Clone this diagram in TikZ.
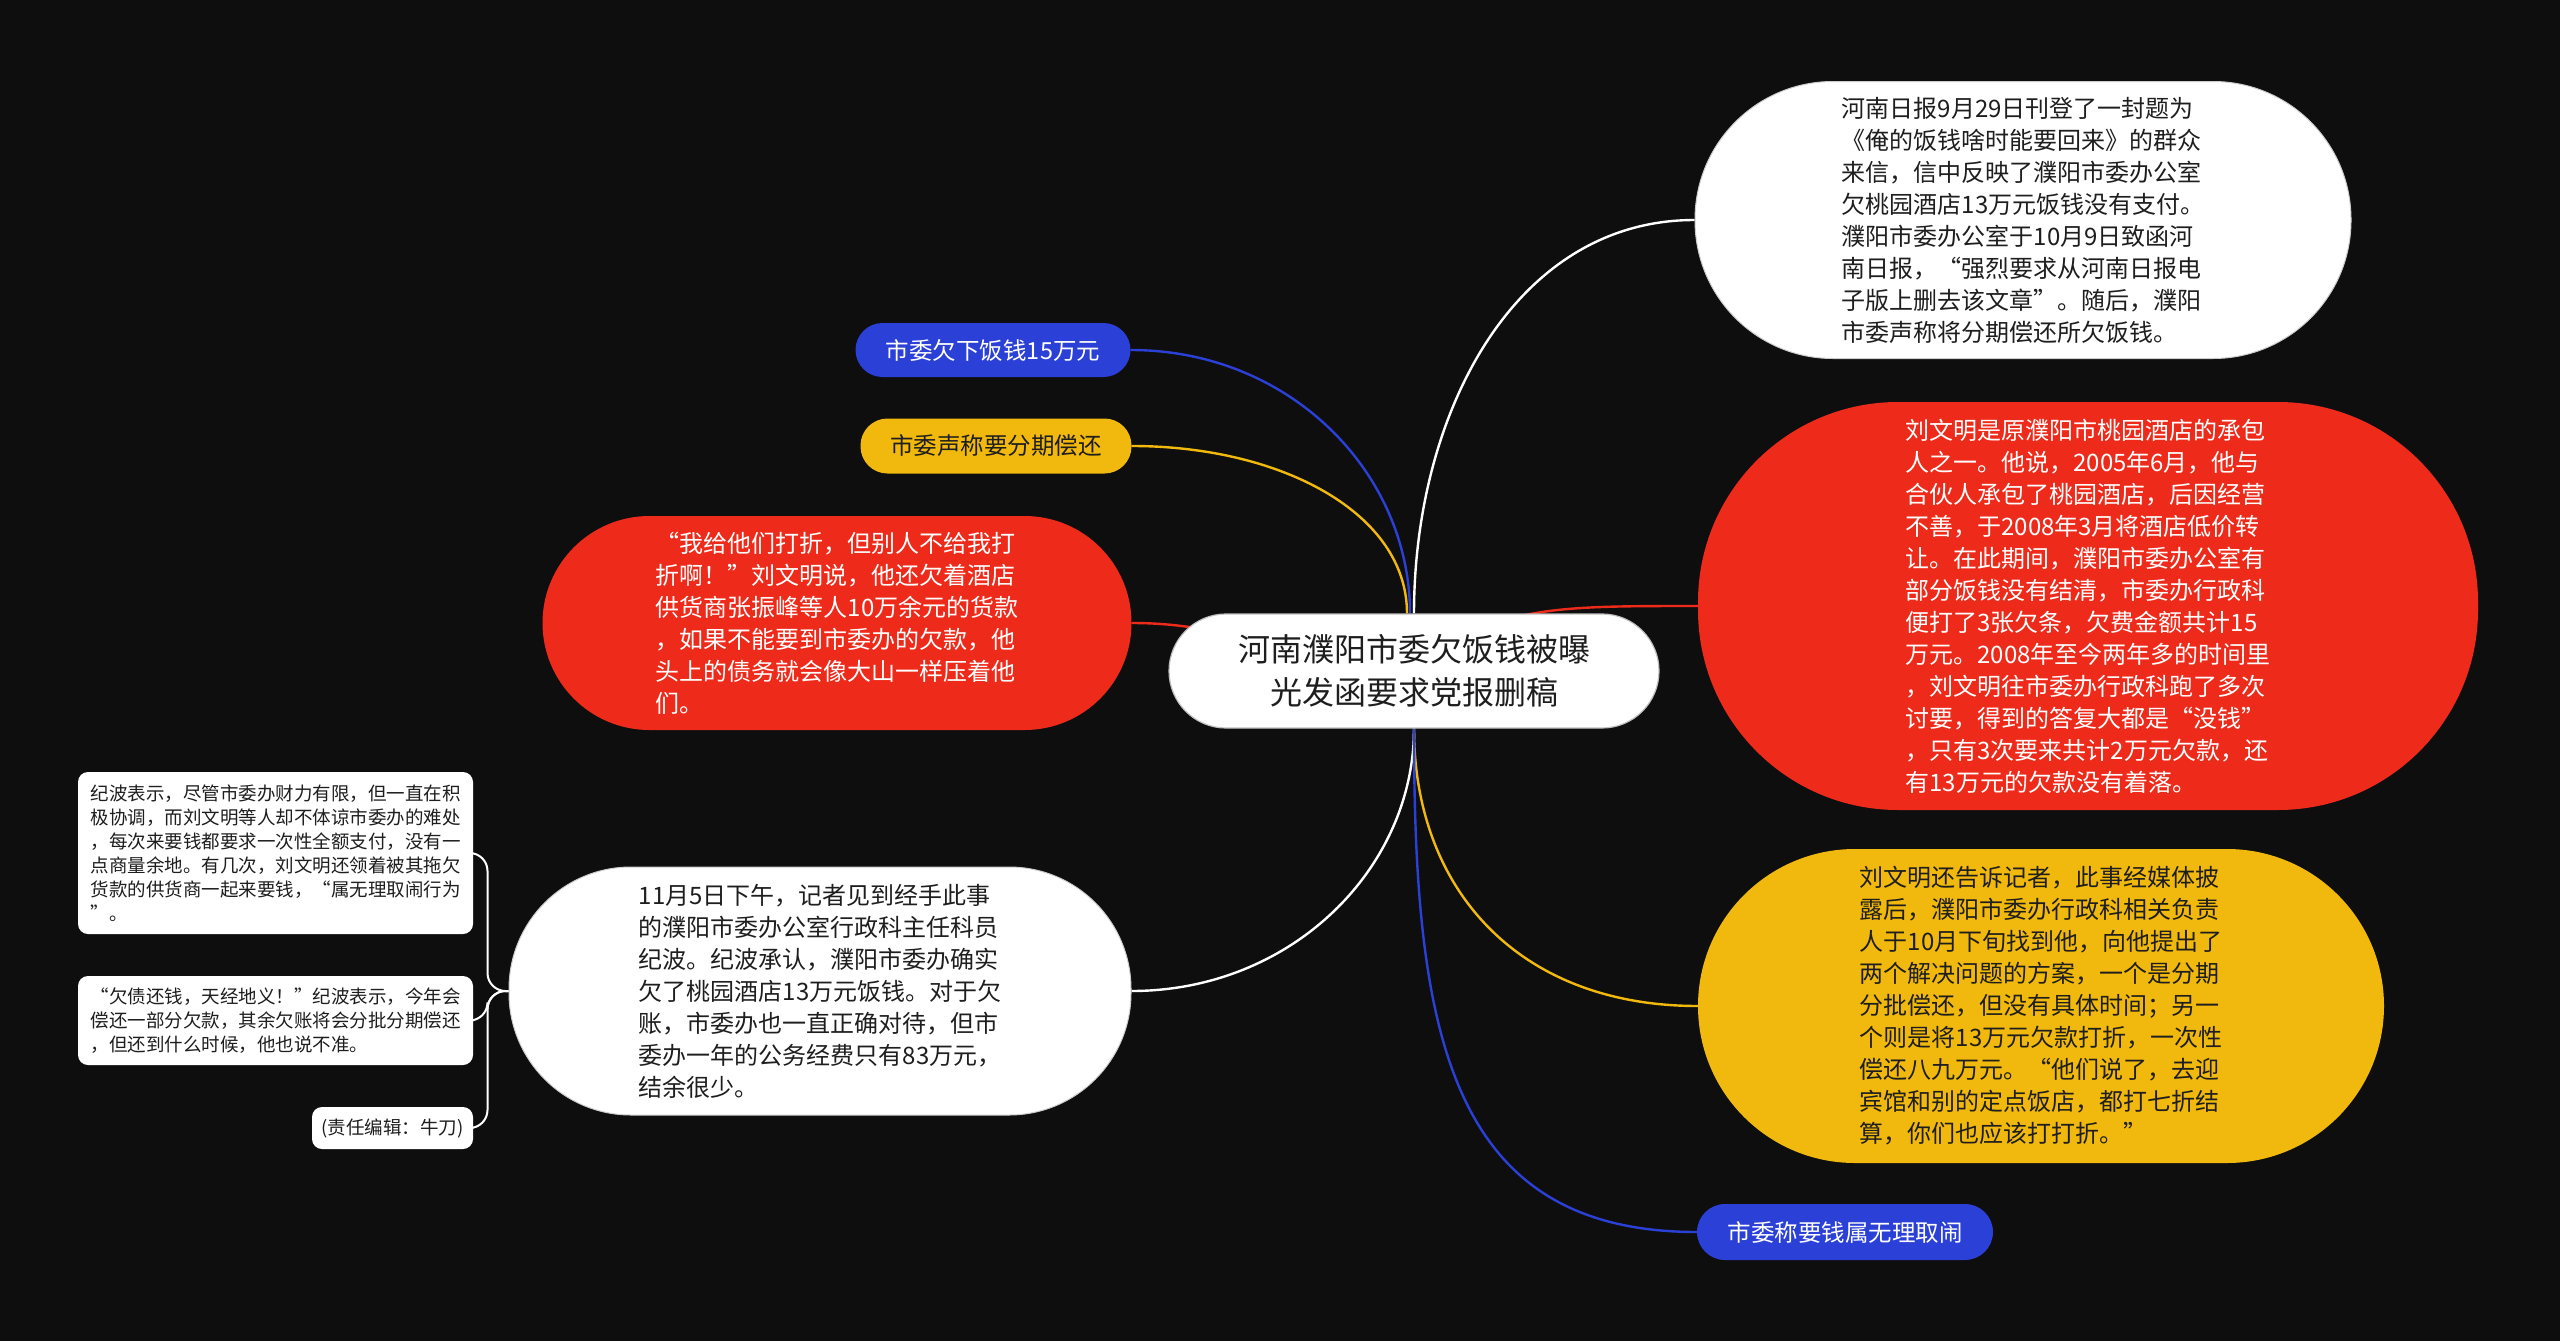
\documentclass[tikz,border=0pt]{standalone}
\usepackage{fontspec}
\setmainfont{Noto Sans CJK SC}
\usetikzlibrary{backgrounds}
\definecolor{bg}{HTML}{0E0E0E}
\definecolor{mred}{HTML}{EE2B1B}
\definecolor{myel}{HTML}{F1B90D}
\definecolor{mblue}{HTML}{2B40D6}
\definecolor{dtext}{HTML}{1E1E1E}
\begin{document}
\begin{tikzpicture}[x=1pt,y=-1pt,
  bub/.style={rounded corners=#1, inner sep=0pt, align=left},
  bigtxt/.style={font=\fontsize{24}{32}\selectfont},
  lbltxt/.style={font=\fontsize{23.5}{28}\selectfont, align=center},
  smalltxt/.style={font=\fontsize{18.5}{24}\selectfont},
  conn/.style={line width=2.4pt},
  sconn/.style={line width=2pt, draw=white, rounded corners=18pt}]
\useasboundingbox (0,0) rectangle (2560,1341);

% root
\node[bub=57, fill=white, draw=black!25, line width=1.2pt, minimum width=490pt, minimum height=114pt,
  font=\fontsize{32}{43}\selectfont, text=dtext, align=center] (root) at (1414,671)
  {河南濮阳市委欠饭钱被曝\\光发函要求党报删稿};

% right side
\node[bub=138, fill=white, draw=black!20, line width=1pt, minimum width=656pt, minimum height=277pt,
  bigtxt, text=dtext] (trw) at (2023,220)
  {河南日报9月29日刊登了一封题为\\《俺的饭钱啥时能要回来》的群众\\来信，信中反映了濮阳市委办公室\\欠桃园酒店13万元饭钱没有支付。\\濮阳市委办公室于10月9日致函河\\南日报，“强烈要求从河南日报电\\子版上删去该文章”。随后，濮阳\\市委声称将分期偿还所欠饭钱。};

\node[bub=200, fill=mred, minimum width=780pt, minimum height=408pt,
  bigtxt, text=white] (rred) at (2088,606)
  {刘文明是原濮阳市桃园酒店的承包\\人之一。他说，2005年6月，他与\\合伙人承包了桃园酒店，后因经营\\不善，于2008年3月将酒店低价转\\让。在此期间，濮阳市委办公室有\\部分饭钱没有结清，市委办行政科\\便打了3张欠条，欠费金额共计15\\万元。2008年至今两年多的时间里\\，刘文明往市委办行政科跑了多次\\讨要，得到的答复大都是“没钱”\\，只有3次要来共计2万元欠款，还\\有13万元的欠款没有着落。};

\node[bub=157, fill=myel, minimum width=686pt, minimum height=314pt,
  bigtxt, text=dtext] (ryel) at (2041,1006)
  {刘文明还告诉记者，此事经媒体披\\露后，濮阳市委办行政科相关负责\\人于10月下旬找到他，向他提出了\\两个解决问题的方案，一个是分期\\分批偿还，但没有具体时间；另一\\个则是将13万元欠款打折，一次性\\偿还八九万元。“他们说了，去迎\\宾馆和别的定点饭店，都打七折结\\算，你们也应该打打折。”};

\node[bub=28, fill=mblue, minimum width=296pt, minimum height=56pt,
  lbltxt, text=white] (rblue) at (1845,1232) {市委称要钱属无理取闹};

% left side
\node[bub=27, fill=mblue, minimum width=275pt, minimum height=54pt,
  lbltxt, text=white] (lblue) at (993,350) {市委欠下饭钱15万元};

\node[bub=27, fill=myel, minimum width=271pt, minimum height=55pt,
  lbltxt, text=dtext] (lyel) at (996,446) {市委声称要分期偿还};

\node[bub=107, fill=mred, minimum width=589pt, minimum height=214pt,
  bigtxt, text=white] (lred) at (837,623)
  {“我给他们打折，但别人不给我打\\折啊！”刘文明说，他还欠着酒店\\供货商张振峰等人10万余元的货款\\，如果不能要到市委办的欠款，他\\头上的债务就会像大山一样压着他\\们。};

\node[bub=122, fill=white, draw=black!20, line width=1pt, minimum width=622pt, minimum height=248pt,
  bigtxt, text=dtext] (lwhite) at (820,991)
  {11月5日下午，记者见到经手此事\\的濮阳市委办公室行政科主任科员\\纪波。纪波承认，濮阳市委办确实\\欠了桃园酒店13万元饭钱。对于欠\\账，市委办也一直正确对待，但市\\委办一年的公务经费只有83万元，\\结余很少。};

% small boxes
\node[bub=10, fill=white, minimum width=395pt, minimum height=162pt,
  smalltxt, text=dtext] (b1) at (275.5,853)
  {纪波表示，尽管市委办财力有限，但一直在积\\极协调，而刘文明等人却不体谅市委办的难处\\，每次来要钱都要求一次性全额支付，没有一\\点商量余地。有几次，刘文明还领着被其拖欠\\货款的供货商一起来要钱，“属无理取闹行为\\”。};

\node[bub=10, fill=white, minimum width=395pt, minimum height=89pt,
  smalltxt, text=dtext] (b2) at (275.5,1020.5)
  {“欠债还钱，天经地义！”纪波表示，今年会\\偿还一部分欠款，其余欠账将会分批分期偿还\\，但还到什么时候，他也说不准。};

\node[bub=10, fill=white, minimum width=161pt, minimum height=42pt,
  smalltxt, text=dtext, align=center] (b3) at (392.5,1128) {(责任编辑：牛刀)};

\begin{scope}[on background layer]
  \fill[bg] (0,0) rectangle (2560,1341);
  \draw[conn, mblue] (lblue.east) .. controls +(160,0) and +(0,-140) .. ([xshift=-4pt]root.north);
  \draw[conn, myel] (lyel.east) .. controls +(150,0) and +(0,-100) .. ([xshift=-7pt]root.north);
  \draw[conn, mred] (lred.east) .. controls +(120,0) and +(-120,0) .. (root.center);
  \draw[conn, white] (root.south) .. controls +(0,140) and +(160,0) .. (lwhite.east);
  \draw[conn, white] (root.north) .. controls +(0,-200) and +(-180,0) .. (trw.west);
  \draw[conn, mred] (root.center) .. controls +(80,-65) and +(-150,0) .. (rred.west);
  \draw[conn, myel] (root.south) .. controls +(0,160) and +(-180,0) .. (ryel.west);
  \draw[conn, mblue] (root.south) .. controls +(0,300) and +(-250,0) .. (rblue.west);
  \draw[sconn] (lwhite.west) -- ++(-21,0) |- (b1.east);
  \draw[sconn] (lwhite.west) -- ++(-21,0) |- (b2.east);
  \draw[sconn] (lwhite.west) -- ++(-21,0) |- (b3.east);
\end{scope}
\end{tikzpicture}
\end{document}
